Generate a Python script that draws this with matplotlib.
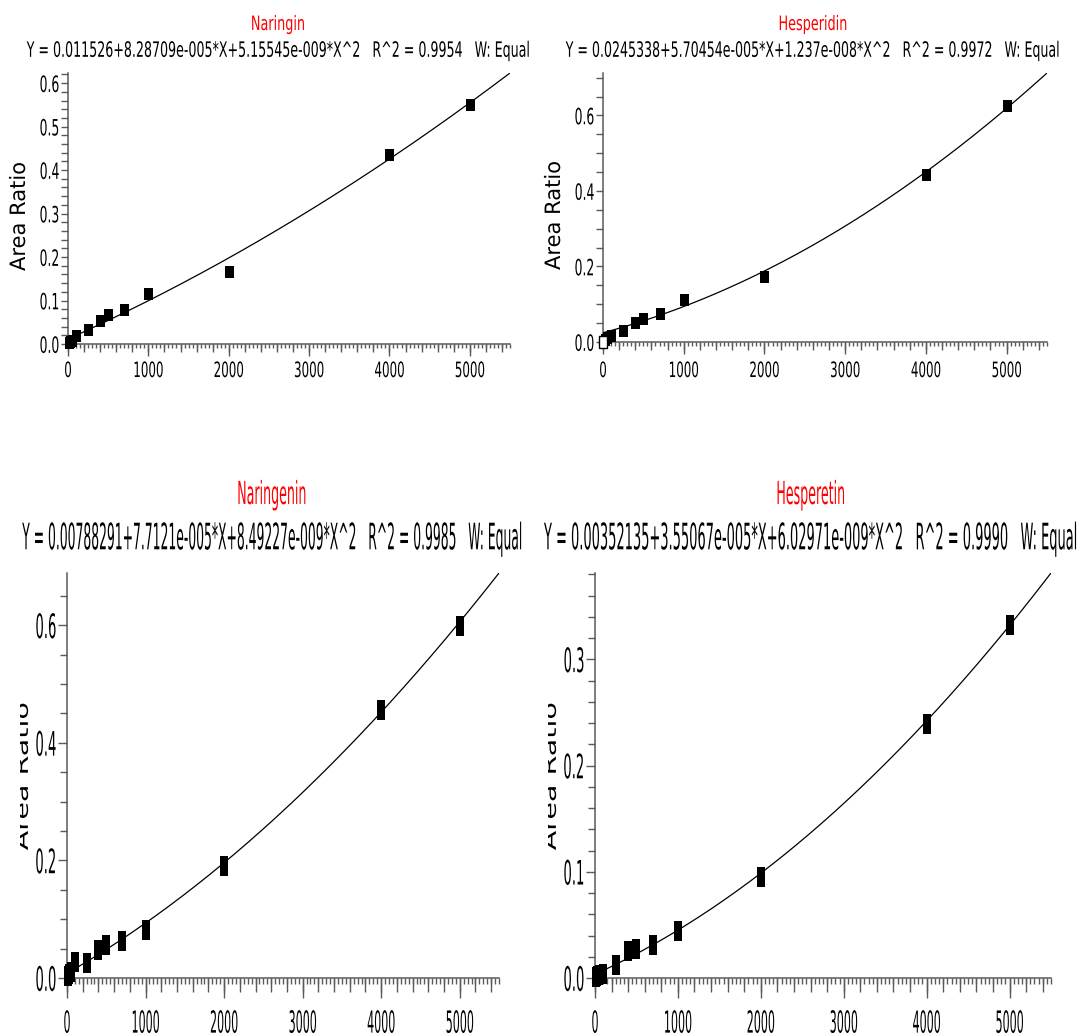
"""Calibration curves of four flavonoids (area ratio vs. concentration)."""
import matplotlib
matplotlib.use('Agg')
import matplotlib.pyplot as plt
import numpy as np
from matplotlib.font_manager import FontProperties
from matplotlib.patheffects import AbstractPathEffect
from matplotlib.textpath import TextPath
from matplotlib.ticker import MultipleLocator, NullFormatter
from matplotlib.transforms import Affine2D, Bbox, TransformedBbox

plt.rcParams['font.family'] = ['Liberation Sans Narrow', 'DejaVu Sans']

W, H = 1079, 1035
PX = 100 / 72  # pixels per point

names = ['Naringin', 'Hesperidin', 'Naringenin', 'Hesperetin']
equations = [
    'Y = 0.011526+8.28709e-005*X+5.15545e-009*X^2   R^2 = 0.9954   W: Equal',
    'Y = 0.0245338+5.70454e-005*X+1.237e-008*X^2   R^2 = 0.9972   W: Equal',
    'Y = 0.00788291+7.7121e-005*X+8.49227e-009*X^2   R^2 = 0.9985   W: Equal',
    'Y = 0.00352135+3.55067e-005*X+6.02971e-009*X^2   R^2 = 0.9990   W: Equal',
]
coef_a = [0.011526, 0.0245338, 0.00788291, 0.00352135]
coef_b = [8.28709e-005, 5.70454e-005, 7.7121e-005, 3.55067e-005]
coef_c = [5.15545e-009, 1.237e-008, 8.49227e-009, 6.02971e-009]

conc = [10, 25, 50, 100, 250, 400, 500, 700, 1000, 2000, 4000, 5000]
naringin = [0.002, 0.004, 0.008, 0.018, 0.033, 0.054, 0.066, 0.078,
            0.116, 0.166, 0.435, 0.550]
hesperidin_conc = [25, 50, 100, 250, 400, 500, 700, 1000, 2000, 4000, 5000]
hesperidin = [0.006, 0.010, 0.015, 0.029, 0.051, 0.060, 0.074,
              0.111, 0.172, 0.441, 0.624]
hesperidin_excluded_conc = [5]
hesperidin_excluded = [0.001]
naringenin = [0.003, 0.006, 0.010, 0.027, 0.026, 0.048, 0.056, 0.063,
              0.082, 0.190, 0.456, 0.599]
hesperetin = [0.001, 0.002, 0.003, 0.004, 0.0125, 0.025, 0.027, 0.031,
              0.044, 0.0955, 0.239, 0.332]

GRAY = '#5a5a5a'

# height of a digit / capital as a fraction of the em, for the font in use
CAP = TextPath((0, 0), '0', size=1, prop=FontProperties(
    family=plt.rcParams['font.family'])).get_extents().height


class Stretch(AbstractPathEffect):
    """Stretch drawn text vertically, like the scanned original."""

    def __init__(self, sy, about='cap'):
        super().__init__()
        self.sy = sy
        self.about = about

    def draw_path(self, renderer, gc, tpath, affine, rgbFace=None):
        if self.about == 'cap':
            yc = affine.transform((0, 50 * CAP))[1]
        else:
            ext = tpath.get_extents(affine)
            yc = (ext.y0 + ext.y1) / 2
        affine = affine + Affine2D().translate(0, -yc).scale(1, self.sy).translate(0, yc)
        renderer.draw_path(gc, tpath, affine, rgbFace)


fig = plt.figure(figsize=(W / 100, H / 100), dpi=100)
renderer = fig.canvas.get_renderer()


def fit_size(s, width_px, base=12.0):
    """Font size (pt) giving text `s` the wanted width in pixels."""
    t = fig.text(0, 0, s, fontsize=base)
    w = t.get_window_extent(renderer).width
    t.remove()
    return base * width_px / w


def stretch_for(cap_px, size):
    return cap_px / (CAP * size * PX)


# measured sizes, in pixels, of the texts in each row
targets = {
    'top': dict(eq_cap=16.0, title_w=54, title_cap=15.0,
                ytick_w=19.5, ytick_cap=17.0, xtick_w=30, xtick_cap=16.0,
                label_cap=16.0, label_len=109, label_x=19,
                xmaj=12, xmid=8, xmin=4, ymaj=7, ymin=7, xlab_top=360,
                ms=12.5, ratio=0.72),
    'bottom': dict(eq_cap=27.6, title_w=69, title_cap=24.0,
                   ytick_w=20.7, ytick_cap=25.5, xtick_w=28, xtick_cap=23.0,
                   label_cap=14.0, label_len=148, label_x=28,
                   xmaj=20, xmid=14, xmin=6, ymaj=9, ymin=7, xlab_top=1010,
                   ms=20, ratio=0.43),
}

# (left, top, right, bottom) of each plot area in pixels
boxes = [(68, 73, 510, 344), (603, 73, 1047, 342),
         (67, 573, 499, 978), (595, 573, 1051, 978)]
title_pos = [(278, 22.5, 48.8), (813, 22.5, 48.8),
             (272, 492, 535.5), (811, 492, 535.5)]
eq_widths = [500, 491, 497, 530]
y_steps = [(0.1, 0.02), (0.2, 0.05), (0.2, 0.05), (0.1, 0.02)]
panel_rows = ['top', 'top', 'bottom', 'bottom']
series_x = [conc, hesperidin_conc, conc, conc]
series_y = [naringin, hesperidin, naringenin, hesperetin]
row_first = {'top': 0, 'bottom': 2}


def rect_marker(ratio):
    return [(-ratio, -1), (ratio, -1), (ratio, 1), (-ratio, 1), (-ratio, -1)]


def fy(px):
    return 1 - px / H


def pt(px):
    return px / PX


def draw_panel(i):
    row = panel_rows[i]
    st = targets[row]
    first = row_first[row]
    left, top, right, bottom = boxes[i]
    ax = fig.add_axes([left / W, fy(bottom), (right - left) / W, (bottom - top) / H])

    a, b, c = coef_a[i], coef_b[i], coef_c[i]
    xmax = 5500
    ytop = a + b * xmax + c * xmax ** 2
    xs = np.linspace(0, xmax, 600)
    ax.plot(xs, a + b * xs + c * xs ** 2, color='black', lw=0.9, zorder=2)

    marker = rect_marker(st['ratio'])
    ax.plot(series_x[i], series_y[i], linestyle='none', marker=marker,
            markersize=pt(st['ms']), color='black', markeredgewidth=0,
            clip_on=False, zorder=4)
    if i == 1:
        ax.plot(hesperidin_excluded_conc, hesperidin_excluded, linestyle='none',
                marker=marker, markersize=pt(st['ms']) - 0.7,
                markerfacecolor='white', markeredgecolor='black',
                markeredgewidth=1.0, clip_on=False, zorder=4)

    ax.set_xlim(0, xmax)
    ax.set_ylim(0, ytop)
    for side in ('top', 'right'):
        ax.spines[side].set_visible(False)
    for side in ('left', 'bottom'):
        ax.spines[side].set_color(GRAY)
        ax.spines[side].set_linewidth(1.1)

    ymajor, yminor = y_steps[i]
    yt = np.round(np.arange(0, ytop + 1e-9, ymajor), 3)
    ax.set_yticks(yt)
    ax.set_yticklabels(['%.1f' % v for v in yt])
    ax.yaxis.set_minor_locator(MultipleLocator(yminor))
    ax.set_xticks(range(0, 5001, 1000))
    ax.set_xticklabels([str(v) for v in range(0, 5001, 1000)])
    ax.xaxis.set_minor_locator(MultipleLocator(50))
    ax.xaxis.set_minor_formatter(NullFormatter())
    ax.yaxis.set_minor_formatter(NullFormatter())

    ysize = fit_size('0.6', st['ytick_w'])
    xsize = fit_size('1000', st['xtick_w'])
    ysy = stretch_for(st['ytick_cap'], ysize)
    xsy = stretch_for(st['xtick_cap'], xsize)
    xcap0 = CAP * xsize * PX
    xpad = st['xlab_top'] + (xsy - 1) * xcap0 / 2 - bottom - st['xmaj']

    ax.tick_params(axis='both', which='both', direction='out', color=GRAY, width=1.0)
    ax.tick_params(axis='x', which='major', length=pt(st['xmaj']),
                   pad=pt(xpad), labelsize=xsize)
    ax.tick_params(axis='x', which='minor', length=pt(st['xmin']))
    ax.tick_params(axis='y', which='major', length=pt(st['ymaj']), pad=1.2,
                   labelsize=ysize)
    ax.tick_params(axis='y', which='minor', length=pt(st['ymin']))

    # medium ticks every 200
    sec = ax.secondary_xaxis('bottom')
    sec.xaxis.set_major_locator(MultipleLocator(200))
    sec.tick_params(axis='x', length=pt(st['xmid']), width=1.0, color=GRAY,
                    labelbottom=False)
    sec.spines['bottom'].set_visible(False)

    for lbl in ax.get_xticklabels():
        lbl.set_path_effects([Stretch(xsy)])
    for lbl in ax.get_yticklabels():
        lbl.set_path_effects([Stretch(ysy)])

    # titles: name in red, fitted equation below
    cx, ty, ey = title_pos[i]
    tsize = fit_size(names[first], st['title_w'])
    esize = fit_size(equations[i], eq_widths[i])
    fig.text(cx / W, fy(ty + CAP * tsize * PX / 2), names[i], color='#ff0000',
             fontsize=tsize, ha='center', va='baseline',
             path_effects=[Stretch(stretch_for(st['title_cap'], tsize))])
    fig.text(cx / W, fy(ey + CAP * esize * PX / 2), equations[i], color='black',
             fontsize=esize, ha='center', va='baseline',
             path_effects=[Stretch(stretch_for(st['eq_cap'], esize))])

    # y axis label, stretched along its length
    lsize = pt(st['label_cap'] / CAP)
    t = fig.text(0, 0, 'Area Ratio', fontsize=lsize)
    lsy = st['label_len'] / t.get_window_extent(renderer).width
    t.remove()
    offset = st['label_x'] - boxes[first][0]
    yc = (top + bottom) / 2 + (8 if row == 'top' else 1)
    if row == 'top':
        fig.text((left + offset) / W, fy(yc), 'Area Ratio', rotation=90,
                 fontsize=lsize, ha='center', va='center',
                 path_effects=[Stretch(lsy, about='extent')])
    else:
        descent = 0.21 * lsize * PX
        t = fig.text((left + offset + descent) / W, fy(yc), 'Area Ratio',
                     rotation=90, fontsize=lsize, ha='right', va='center',
                     path_effects=[Stretch(lsy, about='extent')])
        clip = TransformedBbox(
            Bbox.from_extents((left + offset - 8) / W, 0, 1, 1), fig.transFigure)
        t.set_clip_box(clip)
        t.set_clip_on(True)
    return ax


for i in range(4):
    draw_panel(i)
fig.savefig('out.png', dpi=100)
